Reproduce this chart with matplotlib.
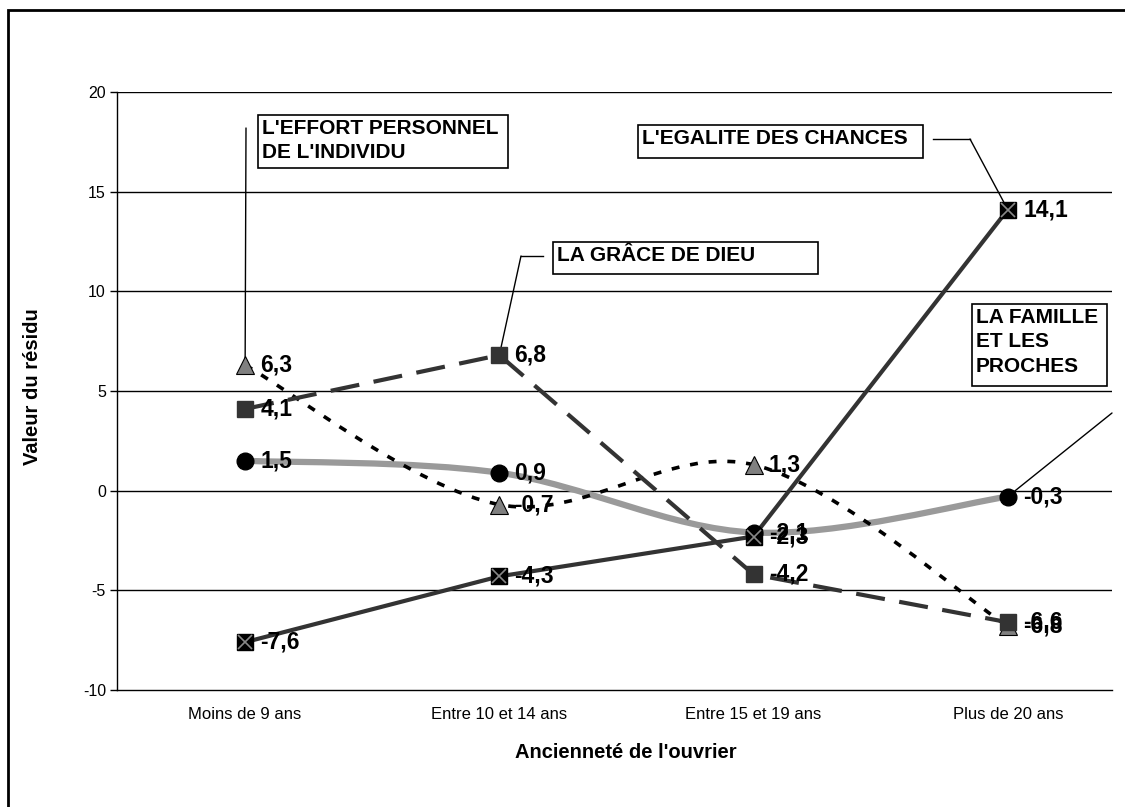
import matplotlib
matplotlib.use("Agg")
import matplotlib.pyplot as plt
from matplotlib.path import Path
from matplotlib.patches import PathPatch, Rectangle
from matplotlib.lines import Line2D
import numpy as np

plt.rcParams['font.family'] = ['Liberation Sans', 'DejaVu Sans']
plt.rcParams['axes.unicode_minus'] = False

# data
categories = ['Moins de 9 ans', 'Entre 10 et 14 ans', 'Entre 15 et 19 ans', 'Plus de 20 ans']
effort = [6.3, -0.7, 1.3, -6.8]      # L'EFFORT PERSONNEL DE L'INDIVIDU
grace = [4.1, 6.8, -4.2, -6.6]       # LA GRACE DE DIEU
egalite = [-7.6, -4.3, -2.3, 14.1]   # L'EGALITE DES CHANCES
famille = [1.5, 0.9, -2.1, -0.3]     # LA FAMILLE ET LES PROCHES
y_ticks = [-10, -5, 0, 5, 10, 15, 20]

W, H = 1125, 807
fig = plt.figure(figsize=(W / 100, H / 100), dpi=100)


def px(x, y):
    """image pixel -> figure fraction"""
    return x / W, 1 - y / H


def smooth_path(xs, ys):
    # excel-like smoothed line, drawn as cubic bezier segments
    pts = np.column_stack([xs, ys]).astype(float)
    n = len(pts)
    verts = [pts[0]]
    codes = [Path.MOVETO]
    for i in range(n - 1):
        p_prev = pts[i - 1] if i > 0 else pts[i]
        p_next2 = pts[i + 2] if i + 2 < n else pts[i + 1]
        c1 = pts[i] + (pts[i + 1] - p_prev) / 6
        c2 = pts[i + 1] - (p_next2 - pts[i]) / 6
        verts += [c1, c2, pts[i + 1]]
        codes += [Path.CURVE4] * 3
    return Path(verts, codes)


l, r = px(117, 0)[0], px(1112, 0)[0]
b, t = px(0, 690)[1], px(0, 92)[1]
ax = fig.add_axes([l, b, r - l, t - b])

x = np.arange(len(categories))

# outer frame (cropped on right / bottom)
fig.add_artist(Rectangle(px(8, 1000), 1.5, (1000 - 10) / H, transform=fig.transFigure,
                         fill=False, lw=2, edgecolor='black', clip_on=False))

# grid
for v in y_ticks[1:]:
    ax.axhline(v, color='black', lw=1, zorder=0)

# lines
ax.add_patch(PathPatch(smooth_path(x, famille), fill=False, edgecolor='#9a9a9a',
                       lw=4.5, zorder=2, capstyle='butt'))
ax.add_patch(PathPatch(smooth_path(x, effort), fill=False, edgecolor='black',
                       lw=2.6, linestyle=(0, (2.2, 3.0)), zorder=3, capstyle='butt'))
ax.plot(x, grace, color='#333333', lw=3, linestyle=(0, (7, 3.5)), zorder=3)
ax.plot(x, egalite, color='#333333', lw=3, zorder=3)

# markers
ax.plot(x, famille, 'o', color='black', ms=12, zorder=5)
ax.plot(x, effort, '^', color='#808080', mec='black', mew=0.8, ms=13, zorder=5)
ax.plot(x, grace, 's', color='#333333', ms=11, zorder=5)
ax.plot(x, egalite, 's', color='black', ms=11, zorder=5)
ax.plot(x, egalite, 'x', color='#888888', ms=10, mew=1.2, zorder=6)

# data labels
for series in [famille, effort, grace, egalite]:
    for xi, v in zip(x, series):
        ax.annotate(f'{v:.1f}'.replace('.', ','), (xi, v), xytext=(11, 0),
                    textcoords='offset points', ha='left', va='center',
                    fontsize=16.5, fontweight='bold', zorder=7)

ax.set_xlim(-0.504, 3.41)
ax.set_ylim(-10, 20)
ax.set_yticks(y_ticks)
ax.set_xticks(x)
ax.set_xticklabels(categories)
ax.tick_params(axis='x', length=0, pad=12, labelsize=12)
ax.tick_params(axis='y', length=5, width=1, pad=3, labelsize=11.5)
for s in ['top', 'right']:
    ax.spines[s].set_visible(False)
ax.spines['left'].set_linewidth(1)
ax.spines['bottom'].set_linewidth(1)

fig.text(*px(626, 753), "Ancienneté de l'ouvrier", ha='center', va='center',
         fontsize=14.5, fontweight='bold')
fig.text(*px(33, 387), 'Valeur du résidu', ha='center', va='center',
         rotation=90, fontsize=14.5, fontweight='bold')

# annotation boxes: (text, box x0, y0, x1, y1)
boxes = [
    ("L'EFFORT PERSONNEL\nDE L'INDIVIDU", 258, 115, 508, 168),
    ("LA GRÂCE DE DIEU", 553, 242, 818, 274),
    ("L'EGALITE DES CHANCES", 638, 125, 923, 158),
    ("LA FAMILLE\nET LES\nPROCHES", 972, 304, 1107, 386),
]
for txt, x0, y0, x1, y1 in boxes:
    fx0, fy1 = px(x0, y1)
    fx1, fy0 = px(x1, y0)
    fig.add_artist(Rectangle((fx0, fy1), fx1 - fx0, fy0 - fy1, transform=fig.transFigure,
                             facecolor='white', edgecolor='black', lw=1.2, zorder=8))
    fig.text(*px(x0 + 4, y0 + 4), txt, ha='left', va='top', fontsize=15,
             fontweight='bold', linespacing=1.35, zorder=9)

# leader lines: start point, optional elbow, target data point
leaders = [
    ((246, 128), None, (0, effort[0])),
    ((543, 256), (521, 256), (1, grace[1])),
    ((933, 139), (970, 139), (3, egalite[3])),
    ((1112, 413), None, (3, famille[3])),
]
for start, elbow, target in leaders:
    if elbow is not None:
        fig.add_artist(Line2D([px(*start)[0], px(*elbow)[0]],
                              [px(*start)[1], px(*elbow)[1]],
                              transform=fig.transFigure, color='black', lw=1))
        start = elbow
    ax.annotate('', xy=target, xycoords='data', xytext=px(*start),
                textcoords='figure fraction',
                arrowprops=dict(arrowstyle='-', color='black', lw=1,
                                shrinkA=0, shrinkB=0), annotation_clip=False, zorder=4)

fig.savefig('out.png', dpi=100)
